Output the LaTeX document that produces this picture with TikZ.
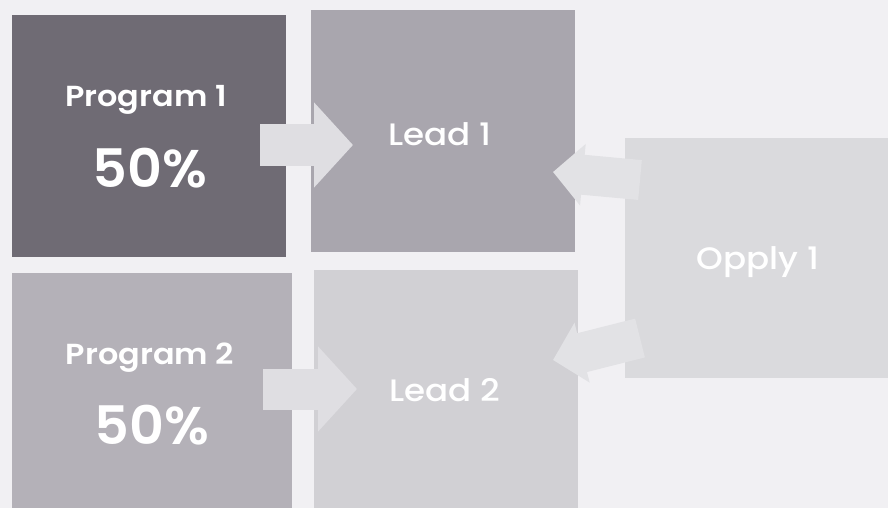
\documentclass[tikz,border=0pt]{standalone}
\usepackage{fontspec}
\setmainfont{Poppins}
\newfontfamily\lblfont[FakeStretch=1.1]{Poppins SemiBold}
\newfontfamily\numfont[FakeStretch=1.02]{Poppins SemiBold}
\newfontfamily\lightlbl[FakeStretch=1.1]{Poppins Medium}
\usetikzlibrary{arrows.meta}
\definecolor{bgc}{HTML}{F1F0F3}
\definecolor{cpone}{HTML}{6F6B74}
\definecolor{cleadone}{HTML}{A9A6AE}
\definecolor{cptwo}{HTML}{B4B1B8}
\definecolor{cleadtwo}{HTML}{D1D0D4}
\definecolor{copply}{HTML}{DADADD}
\definecolor{carrowa}{HTML}{DFDEE2}
\definecolor{carrowb}{HTML}{E2E2E5}
\tikzset{
  box/.style={draw=none, inner sep=0pt},
  lbl/.style={text=white, inner sep=0pt, anchor=center},
  bigarrow/.style={draw=carrowa, line width=41pt, line cap=butt,
    -{Triangle[width=83pt 0, length=39pt 0]}},
  smallarrow/.style={draw=carrowb, line width=40pt, line cap=butt,
    -{Triangle[width=60pt 0, length=30pt 0]}}
}
\begin{document}
\begin{tikzpicture}[x=1pt, y=-1pt]
\useasboundingbox (0,0) rectangle (888,508);
\fill[bgc] (0,0) rectangle (888,508);
% boxes
\node[box, fill=cpone, minimum width=274pt, minimum height=241pt] (p1) at (149,136) {};
\node[box, fill=cleadone, minimum width=264pt, minimum height=242pt] (l1) at (443,131) {};
\node[box, fill=cptwo, minimum width=280pt, minimum height=240pt] (p2) at (152,393) {};
\node[box, fill=cleadtwo, minimum width=264pt, minimum height=240pt] (l2) at (446,390) {};
\node[box, fill=copply, minimum width=264pt, minimum height=240pt] (op) at (757,258) {};
% connectors
\coordinate (a1s) at (260,145);
\coordinate (a1e) at (353,145);
\coordinate (a2s) at (263,389);
\coordinate (a2e) at (357,389);
\coordinate (r1s) at (640,180);
\coordinate (r1e) at (553,172);
\coordinate (r2s) at (640,338);
\coordinate (r2e) at (553,360);
\draw[bigarrow] (a1s) -- (a1e);
\draw[bigarrow] (a2s) -- (a2e);
\draw[smallarrow] (r1s) -- (r1e);
\draw[smallarrow] (r2s) -- (r2e);
% labels
\node[lbl, font=\lblfont\fontsize{29}{32}\selectfont] (p1a) at (146,100) {Program 1};
\node[lbl, font=\numfont\fontsize{53}{56}\selectfont] (p1b) at (150,168) {50\%};
\node[lbl, font=\lblfont\fontsize{29}{32}\selectfont] (p2a) at (150,358) {Program 2};
\node[lbl, font=\numfont\fontsize{53}{56}\selectfont] (p2b) at (152,425) {50\%};
\node[lbl, font=\lightlbl\fontsize{31}{34}\selectfont] (l1t) at (440,134) {Lead 1};
\node[lbl, font=\lightlbl\fontsize{31}{34}\selectfont] (l2t) at (445,390) {Lead 2};
\node[lbl, font=\lightlbl\fontsize{31}{34}\selectfont] (opt) at (758,262) {Opply 1};
\end{tikzpicture}
\end{document}
